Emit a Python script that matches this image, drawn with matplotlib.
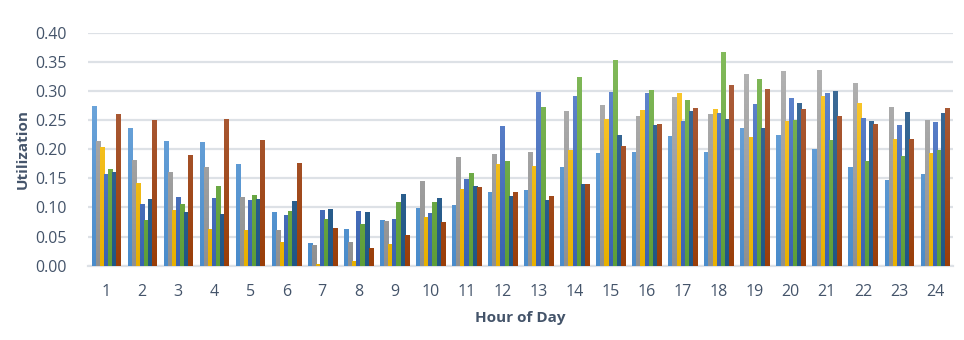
import numpy as np
import matplotlib
matplotlib.use("Agg")
import matplotlib.pyplot as plt
from matplotlib.colors import to_rgb, LinearSegmentedColormap

hours = list(range(1, 25))
hour_labels = [str(h) for h in hours]

series_a = [0.274, 0.236, 0.214, 0.212, 0.175, 0.092, 0.039, 0.063, 0.078, 0.099, 0.104, 0.126,
            0.130, 0.169, 0.193, 0.195, 0.223, 0.195, 0.236, 0.224, 0.200, 0.169, 0.147, 0.157]
series_b = [0.214, 0.181, 0.161, 0.169, 0.118, 0.061, 0.035, 0.041, 0.077, 0.145, 0.187, 0.192,
            0.195, 0.266, 0.276, 0.257, 0.290, 0.260, 0.329, 0.334, 0.336, 0.314, 0.272, 0.250]
series_c = [0.204, 0.142, 0.096, 0.063, 0.061, 0.041, 0.003, 0.008, 0.037, 0.084, 0.132, 0.175,
            0.171, 0.199, 0.252, 0.267, 0.296, 0.269, 0.221, 0.248, 0.291, 0.279, 0.217, 0.193]
series_d = [0.157, 0.106, 0.118, 0.116, 0.113, 0.087, 0.096, 0.094, 0.080, 0.090, 0.149, 0.240,
            0.298, 0.291, 0.298, 0.296, 0.248, 0.262, 0.278, 0.288, 0.296, 0.253, 0.241, 0.247]
series_e = [0.166, 0.078, 0.106, 0.137, 0.121, 0.094, 0.080, 0.072, 0.109, 0.109, 0.159, 0.180,
            0.272, 0.324, 0.353, 0.302, 0.284, 0.367, 0.320, 0.250, 0.216, 0.180, 0.188, 0.199]
series_f = [0.161, 0.114, 0.092, 0.089, 0.114, 0.111, 0.097, 0.092, 0.123, 0.116, 0.137, 0.120,
            0.113, 0.140, 0.224, 0.241, 0.266, 0.252, 0.236, 0.279, 0.300, 0.248, 0.264, 0.262]
series_g = [0.260, 0.250, 0.190, 0.252, 0.216, 0.176, 0.065, 0.030, 0.053, 0.075, 0.135, 0.126,
            0.120, 0.140, 0.205, 0.243, 0.271, 0.310, 0.303, 0.269, 0.257, 0.243, 0.217, 0.271]

all_series = [series_a, series_b, series_c, series_d, series_e, series_f, series_g]
# (top colour, bottom colour) for the gradient fill
series_colors = [("#7AAEE0", "#4A8CCB"), ("#B8B8B8", "#909090"), ("#FFCD3A", "#E8B000"),
                 ("#6A8FD6", "#3A62B0"), ("#86BD5E", "#5E9E38"), ("#46719B", "#1F5687"),
                 ("#B0664A", "#9A3E08")]

text_col = "#44546A"
grid_col = "#DDE1E6"

plt.rcParams['font.family'] = ['Open Sans', 'DejaVu Sans']

fig = plt.figure(figsize=(9.64, 3.40), dpi=100)
ax = fig.add_axes([0.0913, 0.2185, 0.8973, 0.6855])

x = np.arange(len(hours)) + 1
n = len(all_series)
bw = 0.8 / n
for i, (vals, (ctop, cbot)) in enumerate(zip(all_series, series_colors)):
    offs = (i - (n - 1) / 2) * bw
    bars = ax.bar(x + offs, vals, width=bw, color=cbot, edgecolor='none', zorder=2)
    cmap = LinearSegmentedColormap.from_list("g%d" % i, [to_rgb(cbot), to_rgb(ctop)])
    grad = np.linspace(0, 1, 64).reshape(-1, 1)
    for b in bars:
        x0, y0 = b.get_x(), b.get_y()
        w, h = b.get_width(), b.get_height()
        if h <= 0:
            continue
        im = ax.imshow(grad, cmap=cmap, origin='lower', aspect='auto',
                       extent=(x0, x0 + w, 0, 0.40), zorder=3, interpolation='bilinear')
        im.set_clip_path(b)

ax.set_xlim(0.5, 24.5)
ax.set_ylim(0, 0.40)
ax.set_yticks(np.arange(0, 0.401, 0.05))
ax.set_yticklabels([f"{v:.2f}" for v in np.arange(0, 0.401, 0.05)])
ax.set_xticks(x)
ax.set_xticklabels(hour_labels)

ax.yaxis.grid(True, color=grid_col, linewidth=1.6, zorder=0)
ax.set_axisbelow(True)
for s in ['top', 'right', 'left']:
    ax.spines[s].set_visible(False)
ax.spines['bottom'].set_color(grid_col)
ax.spines['bottom'].set_linewidth(1.6)
ax.tick_params(axis='both', length=0, colors=text_col, labelsize=11.5)
ax.tick_params(axis='y', pad=15)
ax.tick_params(axis='x', pad=13)

ax.set_ylabel("Utilization", fontsize=11, fontweight='bold', color=text_col, labelpad=4)
ax.set_xlabel("Hour of Day", fontsize=11, fontweight='bold', color=text_col, labelpad=8)

fig.savefig("out.png", dpi=100)
